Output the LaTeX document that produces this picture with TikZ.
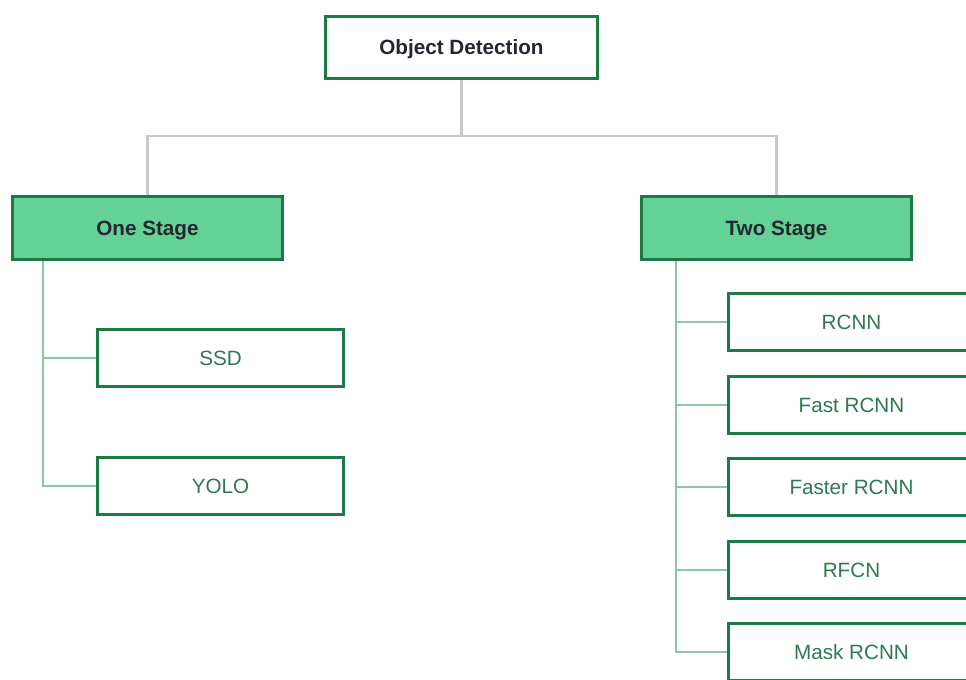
\documentclass[tikz,border=0pt]{standalone}
\usepackage{fontspec}
\setmainfont{Liberation Sans}
\usepackage{xcolor}
\usepackage{tikz}
\usetikzlibrary{positioning}
\definecolor{darkgreen}{HTML}{1C7A45}
\definecolor{stagefill}{HTML}{64D296}
\definecolor{leaftext}{HTML}{2E7A4E}
\definecolor{headtext}{HTML}{262630}
\definecolor{treegray}{HTML}{C8C8C8}
\definecolor{leafline}{HTML}{86C9A2}

\begin{document}
\begin{tikzpicture}[
  x=0.75pt, y=-0.75pt,
  font=\fontsize{15.5}{18}\selectfont,
  head/.style={draw=darkgreen,line width=2.2pt,fill=white,text=headtext,font=\fontsize{15.5}{18}\selectfont\bfseries,text height=11.2pt,text depth=0pt,minimum width=204pt,minimum height=46.5pt},
  stage/.style={head,fill=stagefill,minimum width=202.5pt,minimum height=47pt},
  leaf/.style={draw=darkgreen,line width=2.2pt,fill=white,text=leaftext,text height=11.2pt,text depth=0pt,minimum width=184.5pt,minimum height=42.75pt},
  tree/.style={draw=treegray,line width=2.2pt},
  branch/.style={draw=leafline,line width=1.4pt}
]
\path[use as bounding box,clip] (0,0) rectangle (966,679);
\fill[white] (0,0) rectangle (966,679);
\node[head] (root) at (461.5,47.5) {Object Detection};
\node[stage] (one) at (147.5,228) {One Stage};
\node[stage] (two) at (776.5,228) {Two Stage};
\node[leaf] (ssd) at (220.5,358) {SSD};
\node[leaf,below=51pt of ssd] (yolo) {YOLO};
\node[leaf] (rcnn) at (851.5,322) {RCNN};
\node[leaf,below=17pt of rcnn] (fast) {Fast RCNN};
\node[leaf,below=17pt of fast] (faster) {Faster RCNN};
\node[leaf,below=17pt of faster] (rfcn) {RFCN};
\node[leaf,below=17pt of rfcn] (mask) {Mask RCNN};
% gray tree lines
\draw[tree] (root.south) -- ++(0,56) -| (one.north);
\draw[tree] (root.south) ++(0,56) -| (two.north);
% one stage branches
\draw[branch] (ssd.west) -| ([xshift=24pt]one.south west);
\draw[branch] (yolo.west) -| ([xshift=24pt]one.south west);
% two stage branches
\foreach \leafname in {rcnn,fast,faster,rfcn,mask}
  \draw[branch] (\leafname.west) -| ([xshift=27pt]two.south west);
\end{tikzpicture}
\end{document}
